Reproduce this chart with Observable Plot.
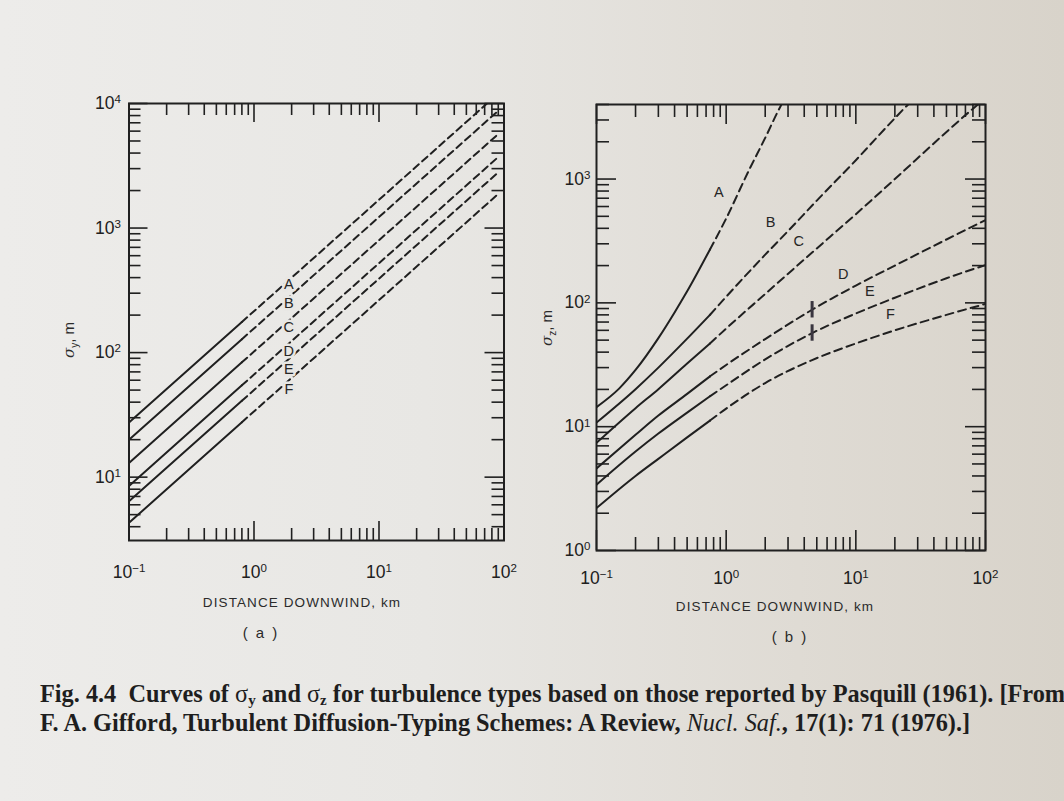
<!DOCTYPE html>
<html>
<head>
<meta charset="utf-8">
<script src="https://cdn.jsdelivr.net/npm/d3@7"></script>
<script src="https://cdn.jsdelivr.net/npm/@observablehq/plot@0.6"></script>
<style>
  html, body { margin:0; padding:0; }
  body { width:1064px; height:801px; overflow:hidden; position:relative;
    background: linear-gradient(90deg, #edecea 0%, #e8e7e4 40%, #dfdbd4 75%, #d8d3ca 100%);
    font-family: "Liberation Sans", Arial, Helvetica, sans-serif; color:#2b2b2b; }
  .abs { position:absolute; line-height:1; }
  .c { transform: translate(-50%, -50%); white-space: nowrap; }
  .xt { font-size:13.5px; letter-spacing:1.1px; }
  .pl { font-size:15px; letter-spacing:2px; }
  .yt { font-size:15px; transform: translate(-50%,-50%) rotate(-90deg); white-space:nowrap; }
  .yt i { font-family: "DejaVu Serif", "Liberation Serif", serif; }
  .yt sub { font-size:10px; }
  .cap { font-family: "Liberation Serif", "Times New Roman", serif; font-weight:bold; font-size:24.3px; color:#1e1e1e; white-space:nowrap; left:40px; }
  .cap sub { font-size:15px; vertical-align:baseline; position:relative; top:3px; }
  .cap .s { font-weight:normal; }
</style>
</head>
<body>
<div id="pa" class="abs" style="left:60px;top:80px;width:470px;height:540px"></div>
<div id="pb" class="abs" style="left:530px;top:80px;width:480px;height:540px"></div>
<div class="abs c xt" style="left:302px;top:603px">DISTANCE DOWNWIND, km</div>
<div class="abs c xt" style="left:775px;top:607px">DISTANCE DOWNWIND, km</div>
<div class="abs c pl" style="left:261px;top:632px">( a )</div>
<div class="abs c pl" style="left:790px;top:636px">( b )</div>
<div class="abs yt" style="left:70px;top:340px"><i>σ</i><sub>y</sub>, m</div>
<div class="abs yt" style="left:548px;top:328px"><i>σ</i><sub>z</sub>, m</div>
<div class="abs cap" style="top:682px">Fig. 4.4&nbsp; Curves of <span class="s">σ</span><sub>y</sub> and <span class="s">σ</span><sub>z</sub> for turbulence types based on those reported by Pasquill (1961). [From</div>
<div class="abs cap" style="top:711px">F. A. Gifford, Turbulent Diffusion-Typing Schemes: A Review, <i class="s">Nucl. Saf.</i>, 17(1): 71 (1976).]</div>
<script>
// ---------------- data ----------------
const types = ["A", "B", "C", "D", "E", "F"];

// Panel (a): sigma_y (m) against distance downwind (km)
const syX = [0.1, 0.8, 90];
const syA = [27.5, 176, 12040];
const syB = [20, 128, 8750];
const syC = [13, 83.5, 5690];
const syD = [8.5, 54.6, 3720];
const syE = [6.4, 41, 2800];
const syF = [4.3, 27.6, 1880];
const syMeasuredTo = 0.8;   // solid up to here, dashed beyond

// Panel (b): sigma_z (m) against distance downwind (km)
const szA_x = [0.1, 0.15, 0.2, 0.3, 0.4, 0.5, 0.75, 1, 1.5, 2, 2.5, 2.8];
const szA_y = [14.4, 20.4, 28.7, 51.9, 83.7, 124, 270, 480, 1180, 2150, 3500, 4400];
const szB_x = [0.1, 0.2, 0.3, 0.5, 0.75, 1, 2, 3, 5, 10, 20, 25, 30];
const szB_y = [10.8, 20.1, 30, 51.4, 80, 112, 245, 380, 670, 1420, 3100, 3950, 4700];
const szC_x = [0.1, 0.2, 0.3, 0.5, 0.75, 1, 2, 4.6, 10, 20, 50, 80, 90];
const szC_y = [7.4, 14.1, 20.1, 32.4, 47, 62, 118, 255, 520, 1000, 2400, 3700, 4100];
const szD_x = [0.1, 0.2, 0.3, 0.5, 0.75, 1, 2, 4.6, 10, 20, 50, 100];
const szD_y = [4.6, 8.6, 12.3, 18.4, 25.5, 31.5, 51, 88, 138, 200, 325, 466];
const szE_x = [0.1, 0.2, 0.3, 0.5, 0.75, 1, 2, 4.6, 10, 20, 50, 100];
const szE_y = [3.4, 6.3, 8.8, 13, 17.6, 21.6, 35, 57, 82, 110, 158, 202];
const szF_x = [0.1, 0.2, 0.3, 0.5, 0.75, 1, 2, 4.6, 10, 20, 50, 100];
const szF_y = [2.2, 4.0, 5.5, 8.2, 11.2, 14, 22.5, 34.5, 47, 60, 80, 98];
const szMeasuredTo = 0.75;

// curve letters
const aLabelX = [1.9, 1.9, 1.9, 1.9, 1.9, 1.9];
const aLabelY = [356, 249, 160, 102, 74, 51];
const bLabelX = [0.877, 2.2, 3.63, 7.98, 12.8, 18.5];
const bLabelY = [776, 444, 316, 171, 125, 81.5];

// the two short bars across curves D and E in (b)
const barX = [4.6, 4.6];
const barY1 = [75.5, 49];
const barY2 = [102.5, 66.5];

// tick labels
const xDecades = [0.1, 1, 10, 100];
const xDecadeLabels = ["10⁻¹", "10⁰", "10¹", "10²"];
const yaDecades = [10, 100, 1000, 10000];
const yaDecadeLabels = ["10¹", "10²", "10³", "10⁴"];
const ybDecades = [1, 10, 100, 1000];
const ybDecadeLabels = ["10⁰", "10¹", "10²", "10³"];

// ---------------- build ----------------
const INK = "#202020";
const FONT = "'Liberation Sans', Arial, Helvetica, sans-serif";
const SUP = {"⁰": "0", "¹": "1", "²": "2", "³": "3", "⁴": "4", "⁻": "−"};

function toRows(xs, ys, type) { return xs.map((x, i) => ({type, x, y: ys[i]})); }
const syRows = [syA, syB, syC, syD, syE, syF].flatMap((ys, k) => toRows(syX, ys, types[k]));
const szRows = [[szA_x, szA_y], [szB_x, szB_y], [szC_x, szC_y], [szD_x, szD_y], [szE_x, szE_y], [szF_x, szF_y]]
  .flatMap(([xs, ys], k) => toRows(xs, ys, types[k]));
const aLabels = types.map((t, i) => ({t, x: aLabelX[i], y: aLabelY[i]}));
const bLabels = types.map((t, i) => ({t, x: bLabelX[i], y: bLabelY[i]}));
const bars = barX.map((x, i) => ({x, y1: barY1[i], y2: barY2[i]}));

function panel(o) {
  const fw = o.width - o.ml - o.mr, fh = o.height - o.mt - o.mb;
  const isMajor = d => Math.abs(Math.log10(d) - Math.round(Math.log10(d))) < 1e-9;
  const xt = d3.scaleLog().domain(o.xDomain).ticks();
  const yt = d3.scaleLog().domain(o.yDomain).ticks();
  const xMaj = xt.filter(isMajor), xMin = xt.filter(d => !isMajor(d));
  const yMaj = yt.filter(isMajor), yMin = yt.filter(d => !isMajor(d));
  const ts = {stroke: INK, strokeWidth: 1.6};
  const solid = o.rows.filter(d => d.x <= o.split);
  const dashed = o.rows.filter(d => d.x >= o.split);
  const svg = Plot.plot({
    width: o.width, height: o.height,
    marginLeft: o.ml, marginRight: o.mr, marginTop: o.mt, marginBottom: o.mb,
    style: {background: "transparent", fontFamily: FONT, color: INK, overflow: "visible", maxWidth: "none"},
    x: {type: "log", domain: o.xDomain, axis: null},
    y: {type: "log", domain: o.yDomain, axis: null},
    marks: [
      Plot.tickX(xMin, {x: d => d, insetTop: fh - o.minor, ...ts}),
      Plot.tickX(xMaj, {x: d => d, insetTop: fh - o.major, ...ts}),
      Plot.tickX(xMin, {x: d => d, insetBottom: fh - o.minor, ...ts}),
      Plot.tickX(xMaj, {x: d => d, insetBottom: fh - o.major, ...ts}),
      Plot.tickY(yMin, {y: d => d, insetRight: fw - o.minor, ...ts}),
      Plot.tickY(yMaj, {y: d => d, insetRight: fw - o.major, ...ts}),
      Plot.tickY(yMin, {y: d => d, insetLeft: fw - o.minor, ...ts}),
      Plot.tickY(yMaj, {y: d => d, insetLeft: fw - o.major, ...ts}),
      Plot.line(solid, {x: "x", y: "y", z: "type", curve: o.curve, stroke: INK, strokeWidth: 2, clip: true}),
      Plot.line(dashed, {x: "x", y: "y", z: "type", curve: o.curve, stroke: INK, strokeWidth: 2,
        strokeDasharray: o.dash, clip: true}),
      ...(o.extra || []),
      Plot.text(o.labels, {x: "x", y: "y", text: "t", fontSize: 14.5, fill: "#262626",
        ...(o.halo ? {stroke: o.halo, strokeWidth: 5} : {})}),
      Plot.frame({stroke: INK, strokeWidth: 2}),
      Plot.axisX(o.xDec, {anchor: "bottom", label: null, tickSize: 0, tickPadding: o.xPad, fontSize: 17.5,
        tickFormat: d => o.xLab[o.xDec.indexOf(d)]}),
      Plot.axisY(o.yDec, {anchor: "left", label: null, tickSize: 0, tickPadding: o.yPad, fontSize: 17.5,
        tickFormat: d => o.yLab[o.yDec.indexOf(d)]})
    ]
  });
  // render the decade exponents as raised text (10 + superscript)
  d3.select(svg).selectAll('g[aria-label="x-axis tick label"] text, g[aria-label="y-axis tick label"] text')
    .each(function () {
      const s = this.textContent;
      const exp = Array.from(s.slice(2)).map(c => SUP[c] ?? c).join("");
      const t = d3.select(this);
      t.text("10");
      t.append("tspan").attr("dy", "-0.5em").attr("font-size", "0.66em").text(exp);
    });
  return svg;
}

document.getElementById("pa").append(panel({
  width: 470, height: 540, ml: 68.5, mr: 26.5, mt: 23, mb: 80,
  xDomain: [0.1, 100], yDomain: [3.1, 10000],
  rows: syRows, split: syMeasuredTo, curve: "linear", dash: "7,4.5",
  labels: aLabels, halo: "#e8e7e4",
  xDec: xDecades, xLab: xDecadeLabels, yDec: yaDecades, yLab: yaDecadeLabels,
  xPad: 25, yPad: 8, minor: 12, major: 19
}));

document.getElementById("pb").append(panel({
  width: 480, height: 540, ml: 66, mr: 25, mt: 24, mb: 70,
  xDomain: [0.1, 100], yDomain: [1, 4000],
  rows: szRows, split: szMeasuredTo, curve: "monotone-x", dash: "8,5",
  labels: bLabels, halo: null,
  extra: [Plot.ruleX(bars, {x: "x", y1: "y1", y2: "y2", stroke: "#3a3640", strokeWidth: 3})],
  xDec: xDecades, xLab: xDecadeLabels, yDec: ybDecades, yLab: ybDecadeLabels,
  xPad: 21, yPad: 6, minor: 13, major: 20
}));
</script>
</body>
</html>
